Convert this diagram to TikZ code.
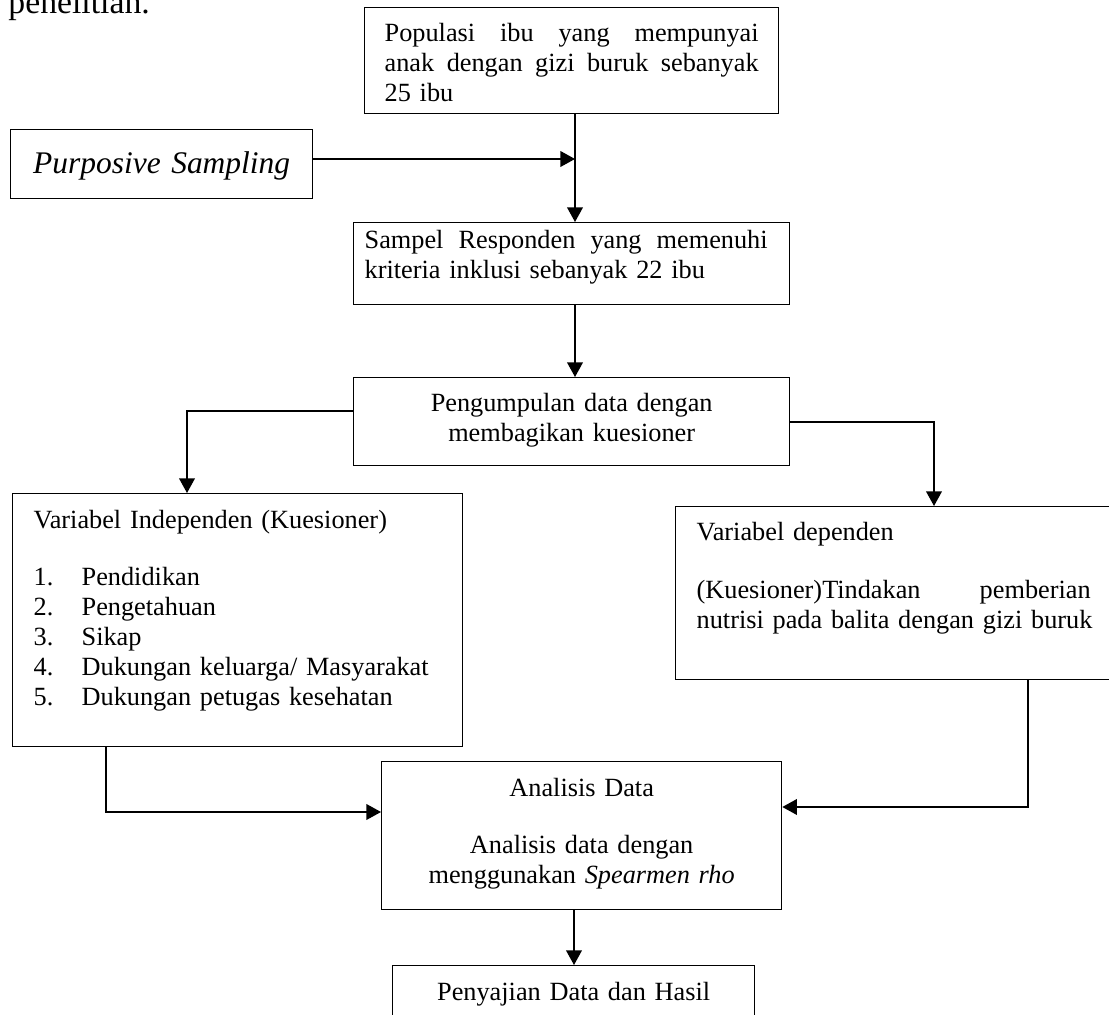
\documentclass[tikz,border=0pt]{standalone}
\usepackage{fontspec}
\setmainfont{Liberation Serif}
\usetikzlibrary{arrows.meta}
\newlength{\pxu}\setlength{\pxu}{0.445pt}
\newcommand{\jline}[2]{\leavevmode\hbox to #1\pxu{#2}}
\begin{document}
\begin{tikzpicture}[x=0.445pt,y=-0.445pt,
  box/.style={draw, line width=0.6pt, inner ysep=0pt, anchor=north west,
    font=\fontsize{11.7}{13.35}\selectfont},
  arr/.style={line width=0.6pt, -{Triangle[length=6.5pt,width=7pt]}}]
\useasboundingbox (0,0) rectangle (1109,1015);
\clip (0,0) rectangle (1109,1015);

\node[anchor=base west, inner sep=0pt, font=\fontsize{15}{17}\selectfont] (intro) at (8,14) {penelitian.};

\node[box, inner xsep=20*\pxu, text width=374*\pxu, align=left,
  text height=34*\pxu, text depth=72*\pxu] (pop) at (364,7)
  {\jline{374}{Populasi \hfill ibu \hfill yang \hfill mempunyai}\\
   \jline{374}{anak \hfill dengan \hfill gizi \hfill buruk \hfill sebanyak}\\
   25 ibu};

\node[box, inner xsep=0pt, text width=302*\pxu, align=center,
  text height=44*\pxu, text depth=25*\pxu,
  font=\fontsize{14}{16}\selectfont\itshape] (purp) at (10,129) {Purposive Sampling};

\node[box, inner xsep=11*\pxu, text width=414*\pxu, align=left,
  text height=26*\pxu, text depth=56*\pxu] (samp) at (353,222)
  {\jline{403}{Sampel \hfill Responden \hfill yang \hfill memenuhi}\\
   \mbox{kriteria inklusi sebanyak 22 ibu}};

\node[box, inner xsep=0pt, text width=436*\pxu, align=center,
  text height=34*\pxu, text depth=54*\pxu] (coll) at (353,377)
  {Pengumpulan data dengan\\ membagikan kuesioner};

\node[box, inner xsep=21*\pxu, text width=408*\pxu, align=left,
  text height=35*\pxu, text depth=218*\pxu] (indep) at (12,493)
  {Variabel Independen (Kuesioner)\\[27\pxu]
   \makebox[48\pxu][l]{1.}Pendidikan\\
   \makebox[48\pxu][l]{2.}Pengetahuan\\
   \makebox[48\pxu][l]{3.}Sikap\\
   \makebox[48\pxu][l]{4.}\mbox{Dukungan keluarga/ Masyarakat}\\
   \makebox[48\pxu][l]{5.}Dukungan petugas kesehatan};

\node[box, inner xsep=21*\pxu, text width=398*\pxu, align=left,
  text height=34*\pxu, text depth=139*\pxu] (dep) at (675,506)
  {Variabel dependen\\[28\pxu]
   \jline{394}{(Kuesioner)Tindakan \hfill pemberian}\\
   \mbox{nutrisi pada balita dengan gizi buruk}};

\node[box, inner xsep=0pt, text width=400*\pxu, align=center,
  text height=35*\pxu, text depth=113*\pxu] (anal) at (381,761)
  {Analisis Data\\[27\pxu]
   Analisis data dengan\\
   menggunakan \textit{Spearmen rho}};

\node[box, inner xsep=0pt, text width=362*\pxu, align=center,
  text height=35*\pxu, text depth=60*\pxu] (pres) at (392,965)
  {Penyajian Data dan Hasil};

\coordinate (j1) at (575,159);
\coordinate (c1) at (187,411);
\coordinate (c2) at (934,422);
\coordinate (c3) at (106,812);
\coordinate (c4) at (1028,807);
\coordinate (j2) at (574,937);

\draw[arr] (purp.east |- j1) -- (j1);
\draw[arr] (pop.south -| j1) -- (samp.north -| j1);
\draw[arr] (samp.south -| j1) -- (coll.north -| j1);
\draw[arr] (coll.west |- c1) -- (c1) -- (indep.north -| c1);
\draw[arr] (coll.east |- c2) -- (c2) -- (dep.north -| c2);
\draw[arr] (indep.south -| c3) -- (c3) -- (anal.west |- c3);
\draw[arr] (dep.south -| c4) -- (c4) -- (anal.east |- c4);
\draw[arr] (anal.south -| j2) -- (pres.north -| j2);
\end{tikzpicture}
\end{document}
